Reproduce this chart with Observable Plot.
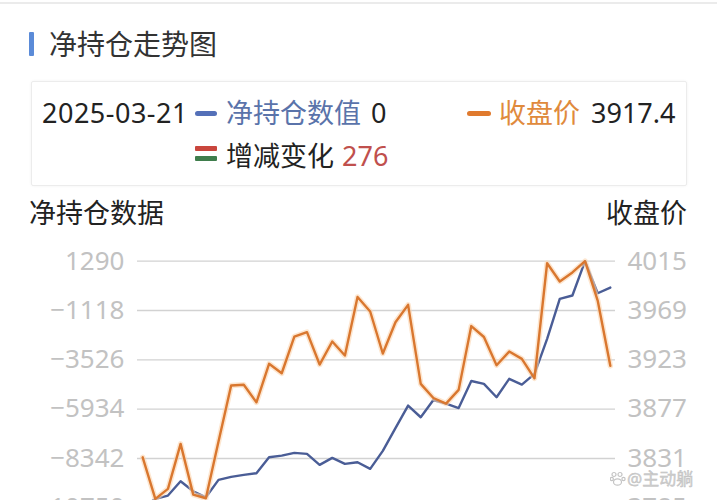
<!DOCTYPE html>
<html>
<head>
<meta charset="utf-8">
<script src="https://cdn.jsdelivr.net/npm/d3@7"></script>
<script src="https://cdn.jsdelivr.net/npm/@observablehq/plot@0.6"></script>
<style>
  html, body { margin: 0; padding: 0; background: #fff; overflow: hidden; width: 717px; height: 500px; }
  body { position: relative; font-family: "Noto Sans", "Noto Sans CJK SC", sans-serif; color: #222; }
  .abs { position: absolute; white-space: nowrap; }
  .topline { left: 0; top: 2px; width: 717px; height: 2px; background: #ebebeb; }
  .bar { left: 29px; top: 32px; width: 5px; height: 24px; background: #5b8bd8; border-radius: 1px; }
  .title { left: 49px; top: 30px; font-size: 28px; line-height: 28px; color: #333; }
  .box { left: 31px; top: 81px; width: 654px; height: 103px; border: 1.5px solid #ececec; border-radius: 2px; box-shadow: 0 0 3px rgba(0,0,0,0.06); }
  .lg { font-size: 27px; line-height: 27px; }
  .mark { height: 5px; border-radius: 2.5px; }
  .axt { font-size: 27px; line-height: 27px; color: #222; top: 199px; }
  .wm { left: 610px; top: 470px; font-size: 17px; line-height: 17px; color: #cfcfcf; -webkit-text-stroke: 0.4px #bdbdbd; }
  #chart { position: absolute; left: 0; top: 230px; }
</style>
</head>
<body>
<script>
// ---------- data ----------
const dates = [
  "2025-01-21","2025-01-22","2025-01-23","2025-01-24","2025-01-27","2025-02-05","2025-02-06","2025-02-07",
  "2025-02-10","2025-02-11","2025-02-12","2025-02-13","2025-02-14","2025-02-17","2025-02-18","2025-02-19",
  "2025-02-20","2025-02-21","2025-02-24","2025-02-25","2025-02-26","2025-02-27","2025-02-28","2025-03-03",
  "2025-03-04","2025-03-05","2025-03-06","2025-03-07","2025-03-10","2025-03-11","2025-03-12","2025-03-13",
  "2025-03-14","2025-03-17","2025-03-18","2025-03-19","2025-03-20","2025-03-21"
];
const netPosition = [
  -10750, -10314, -10153, -9455, -9943, -10236, -9386, -9240,
  -9142, -9064, -8283, -8200, -8068, -8117, -8654, -8312,
  -8605, -8527, -8849, -7970, -6857, -5758, -6329, -5489,
  -5660, -5880, -4561, -4698, -5352, -4454, -4732, -4209,
  -2500, -546, -385, 1290, -276, 0
];
const closePrice = [
  3832.1, 3793.3, 3802.6, 3844.6, 3797.3, 3793.9, 3846.8, 3899.0,
  3899.7, 3883.4, 3919.3, 3910.5, 3944.7, 3948.8, 3918.6, 3940.1,
  3927.0, 3981.6, 3968.1, 3928.9, 3958.1, 3974.3, 3900.6, 3887.4,
  3882.2, 3895.0, 3954.5, 3944.3, 3918.0, 3930.7, 3923.9, 3905.8,
  4013.1, 3996.1, 4004.5, 4015.0, 3978.3, 3917.4
];
const netTicks = [1290, -1118, -3526, -5934, -8342, -10750];
const priceTicks = [4015, 3969, 3923, 3877, 3831, 3785];

const titleText = "净持仓走势图";
const legendDate = "2025-03-21";
const netLabel = "净持仓数值";
const netValue = "0";
const priceLabel = "收盘价";
const priceValue = "3917.4";
const changeLabel = "增减变化";
const changeValue = "276";
const leftAxisTitle = "净持仓数据";
const rightAxisTitle = "收盘价";
const watermark = "@主动躺";
</script>

<div class="abs topline"></div>
<div class="abs bar"></div>
<div class="abs title" id="title"></div>
<div class="abs box"></div>
<div class="abs lg" id="lgDate" style="left:42px;top:99px;color:#222;letter-spacing:0.5px"></div>
<div class="abs mark" style="left:195px;top:111px;width:22px;background:#5470b8"></div>
<div class="abs lg" id="lgNet" style="left:226px;top:99px;color:#5a73aa"></div>
<div class="abs lg" id="lgNetV" style="left:371px;top:99px;color:#222"></div>
<div class="abs mark" style="left:467px;top:111px;width:24px;background:#e07a2e"></div>
<div class="abs lg" id="lgPrice" style="left:499px;top:99px;color:#e08a3c"></div>
<div class="abs lg" id="lgPriceV" style="left:591px;top:99px;color:#222"></div>
<div class="abs" style="left:195px;top:146px;width:22px;height:5px;background:#c9463d;border-radius:1px"></div>
<div class="abs" style="left:195px;top:156px;width:22px;height:5px;background:#3f7d4c;border-radius:1px"></div>
<div class="abs lg" id="lgChg" style="left:226px;top:142px;color:#222"></div>
<div class="abs lg" id="lgChgV" style="left:342px;top:142px;color:#c0504d"></div>
<div class="abs axt" id="axL" style="left:29px"></div>
<div class="abs axt" id="axR" style="right:30px"></div>
<div id="chart"></div>
<div class="abs wm"><svg width="16" height="15" viewBox="0 0 16 15" style="vertical-align:-1px;margin-right:1px"><g fill="none" stroke="#c4c4c4" stroke-width="1.2"><circle cx="4" cy="3.5" r="2"/><circle cx="10" cy="3.5" r="2"/><circle cx="1.8" cy="8" r="1.6"/><circle cx="13.5" cy="8" r="1.6"/><ellipse cx="7.5" cy="11" rx="4" ry="3.2"/></g></svg><span id="wmText"></span></div>

<script>
document.getElementById("title").textContent = titleText;
document.getElementById("lgDate").textContent = legendDate;
document.getElementById("lgNet").textContent = netLabel;
document.getElementById("lgNetV").textContent = netValue;
document.getElementById("lgPrice").textContent = priceLabel;
document.getElementById("lgPriceV").textContent = priceValue;
document.getElementById("lgChg").textContent = changeLabel;
document.getElementById("lgChgV").textContent = changeValue;
document.getElementById("axL").textContent = leftAxisTitle;
document.getElementById("axR").textContent = rightAxisTitle;
document.getElementById("wmText").textContent = watermark;

const netMin = d3.min(netTicks), netMax = d3.max(netTicks);
const pMin = d3.min(priceTicks), pMax = d3.max(priceTicks);
const toNet = p => netMin + (p - pMin) * (netMax - netMin) / (pMax - pMin);
const fromNet = v => pMin + (v - netMin) * (pMax - pMin) / (netMax - netMin);
const rows = dates.map((d, i) => ({date: d, net: netPosition[i], priceOnNet: toNet(closePrice[i])}));
const fmtNeg = d => d < 0 ? "\u2212" + Math.abs(d) : String(d);
const font = '"Noto Sans", "Noto Sans CJK SC", sans-serif';

const chart = Plot.plot({
  width: 717,
  height: 330,
  marginTop: 30.7,
  marginBottom: 52.7,
  marginLeft: 137,
  marginRight: 102,
  style: {fontFamily: font, fontSize: "26px", background: "transparent", overflow: "visible"},
  x: {type: "point", domain: dates, padding: 0.41, round: false, axis: null},
  y: {domain: [netMin, netMax], axis: null},
  marks: [
    Plot.ruleY(netTicks, {stroke: "#d2d2d2", strokeWidth: 1.3}),
    Plot.axisY(netTicks, {anchor: "left", tickSize: 0, tickPadding: 13, label: null,
      tickFormat: fmtNeg, fill: "#c2c2c2", fontSize: 26}),
    Plot.axisY(priceTicks.map(toNet), {anchor: "right", tickSize: 0, tickPadding: 12, label: null,
      tickFormat: d => String(Math.round(fromNet(d))), fill: "#c2c2c2", fontSize: 26}),
    Plot.lineY(rows, {x: "date", y: "net", stroke: "#4a5d96", strokeWidth: 2.4}),
    Plot.lineY(rows, {x: "date", y: "priceOnNet", stroke: "#fbd6b0", strokeWidth: 5.5, strokeOpacity: 0.6}),
    Plot.lineY(rows, {x: "date", y: "priceOnNet", stroke: "#d9772f", strokeWidth: 2.4})
  ]
});
document.getElementById("chart").appendChild(chart);
</script>
</body>
</html>
